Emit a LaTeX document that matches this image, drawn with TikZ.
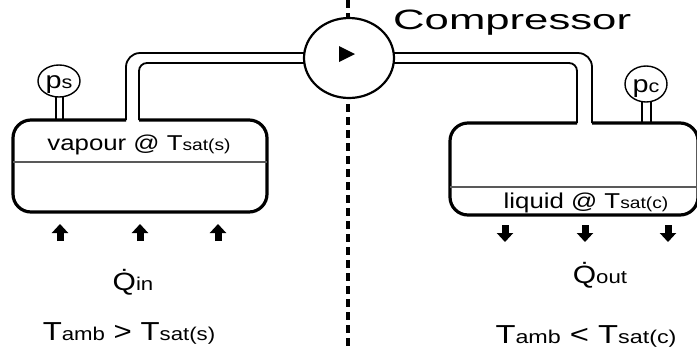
\documentclass[tikz,border=0pt]{standalone}
\usepackage{fontspec}
\setmainfont{Liberation Sans}[FakeStretch=1.2]
\newfontfamily\widefont{Liberation Sans}[FakeStretch=1.56]
\newfontfamily\midfont{Liberation Sans}[FakeStretch=1.26]
\usetikzlibrary{arrows.meta}
\newcommand\fsz[1]{\fontsize{#1bp}{#1bp}\selectfont}
\begin{document}
\begin{tikzpicture}[x=1bp,y=-1bp,
  tank/.style={line width=3.2bp, rounded corners=18bp},
  pipe/.style={line width=1.8bp},
  stem/.style={line width=1.4bp},
  gaugeline/.style={line width=1.4bp, fill=white},
  divider/.style={line width=1.1bp, draw=black!65},
  heat/.style={line width=7bp, -{Triangle[width=16bp,length=9bp]}},
  lbl/.style={inner sep=0pt, anchor=base}]
\useasboundingbox (0,0) rectangle (697,351);
% dashed separation line
\coordinate (dtop) at (348,0);
\coordinate (dbot) at (348,351);
\draw[line width=3.5bp, dash pattern=on 8bp off 5bp] (dtop) -- (dbot);
% pipes
\draw[pipe, rounded corners=14bp] (126,120) -- (126,53) -- (312,53);
\draw[pipe, rounded corners=8bp] (139,120) -- (139,63) -- (312,63);
\draw[pipe, rounded corners=14bp] (386,53) -- (592,53) -- (592,123);
\draw[pipe, rounded corners=8bp] (386,63) -- (577,63) -- (577,123);
% tanks
\draw[tank] (139,120) -- (267,120) -- (267,212) -- (13,212) -- (13,120) -- (126,120);
\draw[divider] (13,162) -- (267,162);
\draw[tank] (592,123) -- (698,123) -- (698,215) -- (450,215) -- (450,123) -- (577,123);
\draw[divider] (450,187) -- (697,187);
% compressor
\coordinate (comp) at (349,58);
\draw[line width=2.2bp, fill=white] (comp) ellipse [x radius=45bp, y radius=40bp];
\fill (339,46) -- (339,62) -- (355,54) -- cycle;
\node[lbl, anchor=base west] (complbl) at (393,29) {\widefont\fsz{28}Compressor};
% gauges
\draw[stem] (56,97) -- (56,120) (63,97) -- (63,120);
\coordinate (psg) at (59,81);
\draw[gaugeline] (psg) ellipse [x radius=21bp, y radius=16bp];
\node[lbl] (pstxt) at (59,88) {\fsz{24}p\fsz{18}s};
\draw[stem] (642,102) -- (642,123) (651,102) -- (651,123);
\coordinate (pcg) at (646,84);
\draw[gaugeline] (pcg) ellipse [x radius=21bp, y radius=18bp];
\node[lbl] (pctxt) at (646,92) {\fsz{24}p\fsz{18}c};
% tank labels
\node[lbl] (vap) at (139,150) {\fsz{21.5}vapour @ T\fsz{16}sat(s)};
\node[lbl] (liq) at (586,208) {\fsz{21.5}liquid @ T\fsz{16}sat(c)};
% heat arrows
\foreach \x/\n in {60/a,140/b,218/c}{
  \coordinate (in\n1) at (\x,241);
  \coordinate (in\n2) at (\x,224);
  \draw[heat] (in\n1) -- (in\n2);
}
\foreach \x/\n in {505/a,585/b,668/c}{
  \coordinate (out\n1) at (\x,225);
  \coordinate (out\n2) at (\x,242);
  \draw[heat] (out\n1) -- (out\n2);
}
% heat labels
\node[lbl] (qin) at (133,290) {\fsz{25}Q̇\fsz{18.5}in};
\node[lbl] (qout) at (600,283) {\fsz{25}Q̇\fsz{18.5}out};
\node[lbl] (tl) at (129,340) {\fsz{26}T\fsz{18.5}amb\fsz{26} > T\fsz{18.5}sat(s)};
\node[lbl] (tr) at (586,343) {\midfont\fsz{26}T\fsz{18.5}amb\fsz{26} < T\fsz{18.5}sat(c)};
\end{tikzpicture}
\end{document}
